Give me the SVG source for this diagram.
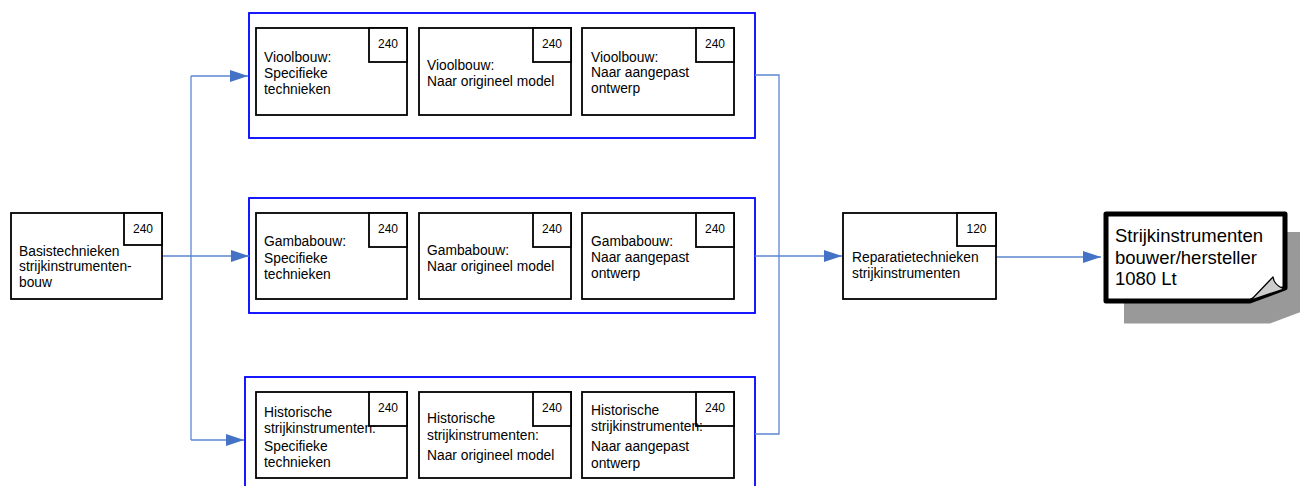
<svg xmlns="http://www.w3.org/2000/svg" width="1300" height="486" viewBox="0 0 1300 486">
<style>
.box{fill:#fff;stroke:#000;stroke-width:1.8}
.grp{fill:#fff;stroke:#0000ff;stroke-width:1.8}
.t{font-family:"Liberation Sans",Arial,sans-serif;font-size:13.8px;fill:#000}
.n{font-family:"Liberation Sans",Arial,sans-serif;font-size:12px;fill:#000;text-anchor:middle}
.c{fill:none;stroke:#5b87cf;stroke-width:1.3}
.big{font-family:"Liberation Sans",Arial,sans-serif;font-size:18.5px;fill:#000}
</style>
<defs>
<marker id="ah" markerUnits="userSpaceOnUse" markerWidth="18" markerHeight="12" refX="18" refY="6" orient="auto">
<path d="M0,0 L18,6 L0,12 z" fill="#4472c4"/>
</marker>
</defs>
<rect width="1300" height="486" fill="#fff"/>

<g id="containers">
<rect id="grp-viool" class="grp" x="249" y="13" width="506" height="125"/>
<rect id="grp-gamba" class="grp" x="249" y="198" width="506" height="115"/>
<rect id="grp-hist" class="grp" x="245" y="377" width="510" height="120"/>
</g>

<g id="connectors">
<path class="c" d="M162,256 H249" marker-end="url(#ah)"/>
<path class="c" d="M191,76 V440"/>
<path class="c" d="M191,76 H248" marker-end="url(#ah)"/>
<path class="c" d="M191,440 H244" marker-end="url(#ah)"/>
<path class="c" d="M755,75 H779 V434 H755"/>
<path class="c" d="M755,256 H842" marker-end="url(#ah)"/>
<path class="c" d="M996,257 H1101" marker-end="url(#ah)"/>
</g>

<g id="basis">
<rect class="box" x="11" y="213" width="151" height="86"/>
<rect class="box" x="124" y="213" width="38" height="32"/>
<text class="n" x="143" y="233">240</text>
<text class="t" x="19" y="255.5">Basistechnieken</text>
<text class="t" x="19" y="271">strijkinstrumenten-</text>
<text class="t" x="19" y="286.5">bouw</text>
</g>

<g id="viool1">
<rect class="box" x="256" y="28" width="151" height="87"/>
<rect class="box" x="369" y="28" width="38" height="34"/>
<text class="n" x="388" y="48">240</text>
<text class="t" x="264" y="61.5">Vioolbouw:</text>
<text class="t" x="264" y="78">Specifieke</text>
<text class="t" x="264" y="94">technieken</text>
</g>
<g id="viool2">
<rect class="box" x="419" y="28" width="152" height="87"/>
<rect class="box" x="533" y="28" width="38" height="34"/>
<text class="n" x="552" y="48">240</text>
<text class="t" x="427" y="70">Vioolbouw:</text>
<text class="t" x="427" y="85.5">Naar origineel model</text>
</g>
<g id="viool3">
<rect class="box" x="582" y="28" width="152" height="87"/>
<rect class="box" x="696" y="28" width="38" height="34"/>
<text class="n" x="715" y="48">240</text>
<text class="t" x="591" y="61.5">Vioolbouw:</text>
<text class="t" x="591" y="77">Naar aangepast</text>
<text class="t" x="591" y="93">ontwerp</text>
</g>

<g id="gamba1">
<rect class="box" x="256" y="213" width="151" height="86"/>
<rect class="box" x="369" y="213" width="38" height="34"/>
<text class="n" x="388" y="233">240</text>
<text class="t" x="264" y="246">Gambabouw:</text>
<text class="t" x="264" y="262.5">Specifieke</text>
<text class="t" x="264" y="278.5">technieken</text>
</g>
<g id="gamba2">
<rect class="box" x="419" y="213" width="152" height="86"/>
<rect class="box" x="533" y="213" width="38" height="34"/>
<text class="n" x="552" y="233">240</text>
<text class="t" x="427" y="254.5">Gambabouw:</text>
<text class="t" x="427" y="270.5">Naar origineel model</text>
</g>
<g id="gamba3">
<rect class="box" x="582" y="213" width="152" height="86"/>
<rect class="box" x="696" y="213" width="38" height="34"/>
<text class="n" x="715" y="233">240</text>
<text class="t" x="591" y="246">Gambabouw:</text>
<text class="t" x="591" y="261.5">Naar aangepast</text>
<text class="t" x="591" y="277.5">ontwerp</text>
</g>

<g id="hist1">
<rect class="box" x="256" y="392" width="151" height="86"/>
<rect class="box" x="369" y="392" width="38" height="34"/>
<text class="n" x="388" y="412">240</text>
<text class="t" x="264" y="416.5">Historische</text>
<text class="t" x="264" y="432.5">strijkinstrumenten:</text>
<text class="t" x="264" y="450.5">Specifieke</text>
<text class="t" x="264" y="466.5">technieken</text>
</g>
<g id="hist2">
<rect class="box" x="419" y="392" width="152" height="86"/>
<rect class="box" x="533" y="392" width="38" height="34"/>
<text class="n" x="552" y="412">240</text>
<text class="t" x="427" y="423">Historische</text>
<text class="t" x="427" y="440">strijkinstrumenten:</text>
<text class="t" x="427" y="460">Naar origineel model</text>
</g>
<g id="hist3">
<rect class="box" x="582" y="392" width="152" height="86"/>
<rect class="box" x="696" y="392" width="38" height="34"/>
<text class="n" x="715" y="412">240</text>
<text class="t" x="591" y="415">Historische</text>
<text class="t" x="591" y="431">strijkinstrumenten:</text>
<text class="t" x="591" y="450.5">Naar aangepast</text>
<text class="t" x="591" y="468">ontwerp</text>
</g>

<g id="reparatie">
<rect class="box" x="843" y="213" width="153" height="86"/>
<rect class="box" x="957" y="213" width="39" height="33"/>
<text class="n" x="976.5" y="233">120</text>
<text class="t" x="852" y="261.5">Reparatietechnieken</text>
<text class="t" x="852" y="278">strijkinstrumenten</text>
</g>

<g id="eindprofiel">
<path d="M1124,232 H1306 V310 L1270,323.5 H1124 z" fill="#999"/>
<path d="M1106,214 H1285 V288 L1250,301 H1106 z" fill="#fff" stroke="#000" stroke-width="5" stroke-linejoin="round"/>
<path d="M1251,300 L1273,277 Q1274,285 1284,289 z" fill="#ccc" stroke="#000" stroke-width="1.3" stroke-linejoin="round"/>
<text class="big" x="1115" y="242">Strijkinstrumenten</text>
<text class="big" x="1115" y="263.5">bouwer/hersteller</text>
<text class="big" x="1115" y="285">1080 Lt</text>
</g>
</svg>
